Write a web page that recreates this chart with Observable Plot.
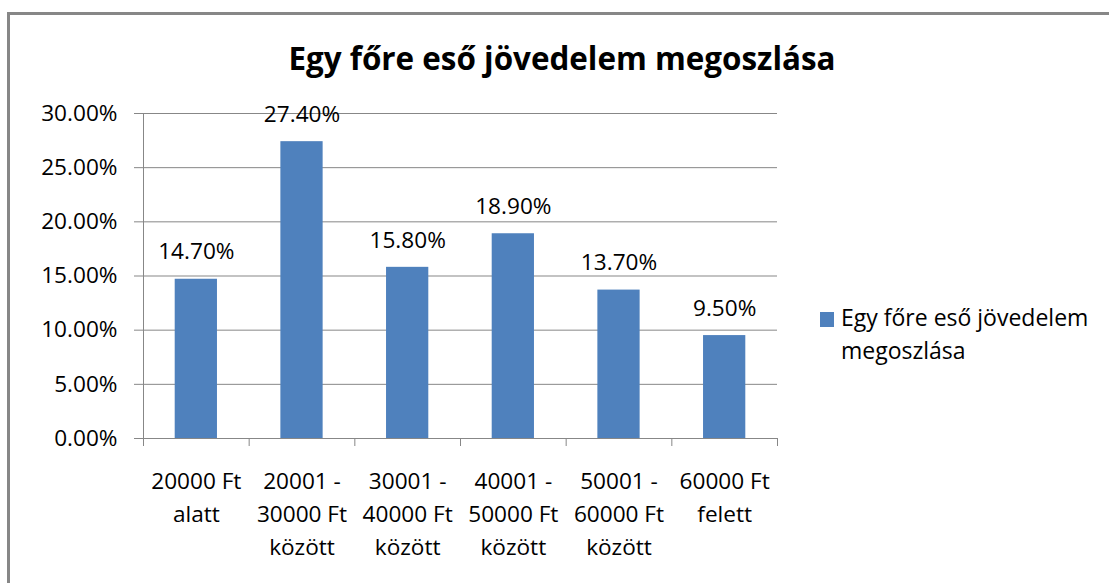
<!DOCTYPE html>
<html>
<head>
<meta charset="utf-8">
<script src="https://cdn.jsdelivr.net/npm/d3@7"></script>
<script src="https://cdn.jsdelivr.net/npm/@observablehq/plot@0.6"></script>
<style>
  html, body { margin: 0; padding: 0; background: #fff; overflow: hidden; }
  #wrap { position: relative; width: 1109px; height: 583px; overflow: hidden; font-family: "Open Sans", sans-serif; }
  #frame { position: absolute; left: 7px; top: 12px; width: 1200px; height: 700px; border-top: 3px solid #878787; border-left: 3px solid #878787; }
  #title { position: absolute; left: 0; width: 1124px; top: 42px; text-align: center; font-weight: bold; font-size: 31.4px; line-height: 31.4px; color: #000; white-space: nowrap; }
  #chart { position: absolute; left: 0; top: 0; }
  #legend-swatch { position: absolute; left: 820px; top: 312px; width: 14px; height: 15px; background: #4F81BD; }
  #legend-text { position: absolute; left: 841px; top: 301px; font-size: 23px; line-height: 33px; color: #000; white-space: nowrap; }
</style>
</head>
<body>
<div id="wrap">
  <div id="frame"></div>
  <div id="chart"></div>
  <div id="title"></div>
  <div id="legend-swatch"></div>
  <div id="legend-text"></div>
</div>
<script>
const chartTitle = "Egy főre eső jövedelem megoszlása";
const seriesName = "Egy főre eső jövedelem megoszlása";
const legendLines = ["Egy főre eső jövedelem", "megoszlása"];
const categories = [
  "20000 Ft\nalatt",
  "20001 -\n30000 Ft\nközött",
  "30001 -\n40000 Ft\nközött",
  "40001 -\n50000 Ft\nközött",
  "50001 -\n60000 Ft\nközött",
  "60000 Ft\nfelett"
];
const values = [14.7, 27.4, 15.8, 18.9, 13.7, 9.5];
const yTicks = [0, 5, 10, 15, 20, 25, 30];

const data = categories.map((c, i) => ({i, label: c, v: values[i]}));
const boundaries = d3.range(categories.length + 1);
const fmt = d => d.toFixed(2) + "%";
const grey = "#878787";
const fs = 22.6;

document.getElementById("title").textContent = chartTitle;
document.getElementById("legend-text").innerHTML = legendLines.join("<br>");

const chart = Plot.plot({
  width: 1109,
  height: 583,
  marginLeft: 143,
  marginRight: 332,
  marginTop: 113,
  marginBottom: 145,
  style: {fontFamily: "Open Sans, sans-serif", fontSize: fs + "px", color: "#000", background: "transparent", overflow: "visible"},
  x: {domain: [0, categories.length], axis: null},
  y: {domain: [0, 30], axis: null},
  marks: [
    Plot.ruleY(yTicks, {stroke: grey, strokeWidth: 1}),
    Plot.axisY({ticks: yTicks, tickSize: 9, tickPadding: 17, tickFormat: fmt, stroke: grey, fill: "#000", fontSize: fs, label: null}),
    Plot.axisX({ticks: boundaries, tickSize: 8, stroke: grey, fill: "none", label: null}),
    Plot.rectY(data, {x1: d => d.i + 0.3, x2: d => d.i + 0.7, y: "v", fill: "#4F81BD"}),
    Plot.ruleX([0], {stroke: grey, strokeWidth: 1}),
    Plot.ruleY([0], {stroke: grey, strokeWidth: 1}),
    Plot.text(data, {x: d => d.i + 0.5, y: "v", text: d => fmt(d.v), dy: -27, fontSize: fs, fill: "#000"}),
    Plot.text(data, {x: d => d.i + 0.5, y: 0, text: "label", lineAnchor: "top", lineHeight: 1.46, dy: 26.7, fontSize: fs, fill: "#000"})
  ]
});
document.getElementById("chart").appendChild(chart);
</script>
</body>
</html>
